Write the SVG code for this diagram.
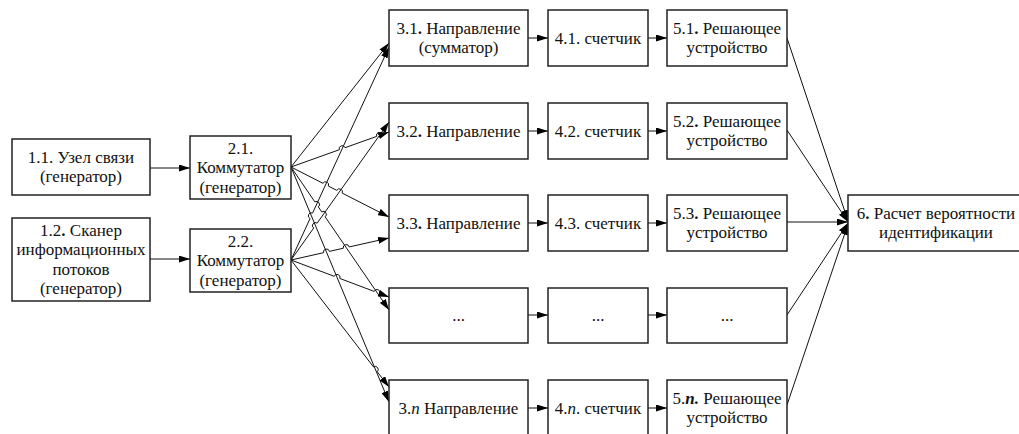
<svg xmlns="http://www.w3.org/2000/svg" width="1019" height="434" viewBox="0 0 1019 434">
<defs>
<marker id="ah" viewBox="0 0 11 7" refX="11" refY="3.5" markerWidth="11" markerHeight="7" markerUnits="userSpaceOnUse" orient="auto">
<path d="M0,0 L11,3.5 L0,7 Z" fill="#000"/>
</marker>
<style>
rect{fill:#fff;stroke:#222;stroke-width:1.5}
text{font-family:"Liberation Serif","Times New Roman",serif;font-size:17px;fill:#111;text-anchor:middle}
.c line,.c path{stroke:#111;stroke-width:1;fill:none;marker-end:url(#ah)}
.b{font-weight:bold}
</style>
</defs>
<rect x="0" y="0" width="1019" height="434" style="fill:#fff;stroke:none"/>
<g class="c" id="connectors">
<line x1="150" y1="168" x2="190" y2="168"/>
<line x1="150" y1="259" x2="190" y2="259"/>
<line x1="291" y1="167" x2="389" y2="43"/>
<path d="M291,167 L339.37,149.71 A3,3 0 0 1 345.03,147.69 L376.67,136.41 A3,3 0 0 1 382.33,134.39 L389,132"/>
<path d="M291,167 L322.98,183.32 A3,3 0 0 1 328.32,186.04 L336.81,190.37 A3,3 0 0 1 342.15,193.09 L389,217"/>
<path d="M291,167 L314.9,201.89 A3,3 0 0 1 318.3,206.83 L321.73,211.86 A3,3 0 0 1 325.13,216.8 L389,310"/>
<line x1="291" y1="167" x2="389" y2="402"/>
<path d="M291,260 L310.09,218.51 A3,3 0 0 1 312.59,213.05 L389,47"/>
<path d="M291,260 L313.69,228.04 A3,3 0 0 1 317.17,223.14 L389,122"/>
<path d="M291,260 L323.53,252.7 A3,3 0 0 1 329.39,251.38 L343.31,248.26 A3,3 0 0 1 349.17,246.94 L389,238"/>
<path d="M291,260 L334.22,276.32 A3,3 0 0 1 339.84,278.44 L374.17,291.41 A3,3 0 0 1 379.79,293.53 L389,297"/>
<path d="M291,260 L373.55,366.99 A3,3 0 0 1 377.21,371.73 L389,387"/>
<line x1="528" y1="38" x2="548" y2="38"/>
<line x1="648" y1="38" x2="667" y2="38"/>
<line x1="528" y1="131" x2="548" y2="131"/>
<line x1="648" y1="131" x2="667" y2="131"/>
<line x1="528" y1="223" x2="548" y2="223"/>
<line x1="648" y1="223" x2="667" y2="223"/>
<line x1="528" y1="315" x2="548" y2="315"/>
<line x1="648" y1="315" x2="667" y2="315"/>
<line x1="528" y1="408" x2="548" y2="408"/>
<line x1="648" y1="408" x2="667" y2="408"/>
<line x1="787" y1="38" x2="848" y2="221"/>
<line x1="787" y1="130" x2="848" y2="222"/>
<line x1="787" y1="222" x2="848" y2="222"/>
<line x1="787" y1="315" x2="848" y2="223"/>
<line x1="787" y1="405" x2="848" y2="224"/>
</g>
<g id="n11"><rect x="12" y="139" width="138" height="56"/><text x="81" y="163">1.1. Узел связи</text><text x="81" y="182">(генератор)</text></g>
<g id="n12"><rect x="12" y="218" width="138" height="83"/><text x="81" y="236">1.2<tspan class="b">.</tspan> Сканер</text><text x="81" y="255">информационных</text><text x="81" y="275">потоков</text><text x="81" y="294">(генератор)</text></g>
<g id="n21"><rect x="190" y="136" width="101" height="63"/><text x="240.5" y="154">2.1.</text><text x="240.5" y="173">Коммутатор</text><text x="240.5" y="193">(генератор)</text></g>
<g id="n22"><rect x="190" y="229" width="101" height="63"/><text x="240.5" y="247">2.2.</text><text x="240.5" y="266">Коммутатор</text><text x="240.5" y="286">(генератор)</text></g>
<g id="n31"><rect x="389" y="10" width="139" height="56"/><text x="458.5" y="34">3.1<tspan class="b">.</tspan> Направление</text><text x="458.5" y="53">(сумматор)</text></g>
<g id="n32"><rect x="389" y="103" width="139" height="56"/><text x="458.5" y="136.5">3.2<tspan class="b">.</tspan> Направление</text></g>
<g id="n33"><rect x="389" y="195" width="139" height="56"/><text x="458.5" y="228.5">3.3<tspan class="b">.</tspan> Направление</text></g>
<g id="n3x"><rect x="389" y="288" width="139" height="55"/><text x="458.5" y="321">...</text></g>
<g id="n3n"><rect x="389" y="380" width="139" height="56"/><text x="458.5" y="413.5">3.<tspan font-style="italic">n</tspan> Направление</text></g>
<g id="n41"><rect x="548" y="10" width="100" height="56"/><text x="598" y="43.5">4.1. счетчик</text></g>
<g id="n42"><rect x="548" y="103" width="100" height="56"/><text x="598" y="136.5">4.2. счетчик</text></g>
<g id="n43"><rect x="548" y="195" width="100" height="56"/><text x="598" y="228.5">4.3. счетчик</text></g>
<g id="n4x"><rect x="548" y="288" width="100" height="55"/><text x="598" y="321">...</text></g>
<g id="n4n"><rect x="548" y="380" width="100" height="56"/><text x="598" y="413.5">4.<tspan font-style="italic">n</tspan>. счетчик</text></g>
<g id="n51"><rect x="667" y="10" width="120" height="56"/><text x="727" y="34">5.1<tspan class="b">.</tspan> Решающее</text><text x="727" y="53">устройство</text></g>
<g id="n52"><rect x="667" y="103" width="120" height="56"/><text x="727" y="127">5.2<tspan class="b">.</tspan> Решающее</text><text x="727" y="146">устройство</text></g>
<g id="n53"><rect x="667" y="195" width="120" height="56"/><text x="727" y="219">5.3<tspan class="b">.</tspan> Решающее</text><text x="727" y="238">устройство</text></g>
<g id="n5x"><rect x="667" y="288" width="120" height="55"/><text x="727" y="321">...</text></g>
<g id="n5n"><rect x="667" y="380" width="120" height="56"/><text x="727" y="404">5.<tspan font-style="italic" font-weight="bold">n.</tspan> Решающее</text><text x="727" y="423">устройство</text></g>
<g id="n6"><rect x="848" y="195" width="178" height="56"/><text x="936" y="219">6<tspan class="b">.</tspan> Расчет вероятности</text><text x="936" y="238">идентификации</text></g>
</svg>
